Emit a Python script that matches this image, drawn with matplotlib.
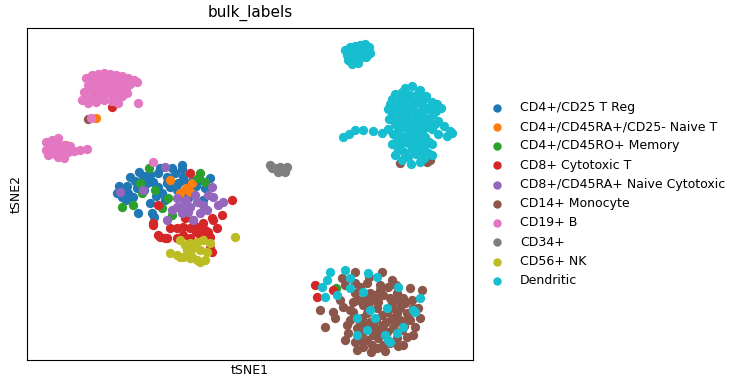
import matplotlib
matplotlib.use("Agg")
import matplotlib.pyplot as plt
import numpy as np

# positions (x, y in picture pixels, y grows downward)
labels = ["CD4+/CD25 T Reg", "CD4+/CD45RA+/CD25- Naive T", "CD4+/CD45RO+ Memory",
          "CD8+ Cytotoxic T", "CD8+/CD45RA+ Naive Cytotoxic", "CD14+ Monocyte",
          "CD19+ B", "CD34+", "CD56+ NK", "Dendritic"]
colors = ["#1f77b4", "#ff7f0e", "#2ca02c", "#d62728", "#9467bd",
          "#8c564b", "#e377c2", "#7f7f7f", "#bcbd22", "#17becf"]

treg = [(130, 177), (150, 175), (158, 173), (167, 177), (182, 165), (182, 169), (175, 173),
        (183, 177), (178, 183), (187, 183), (192, 181), (200, 180), (210, 178), (142, 180),
        (147, 183), (153, 182), (158, 187), (162, 193), (123, 190), (128, 193), (122, 197),
        (133, 197), (150, 203), (138, 213), (152, 213), (154, 217), (170, 187), (177, 190),
        (183, 197), (188, 198), (203, 200), (165, 200), (140, 184), (137, 188), (127, 186),
        (119, 186), (135, 181), (145, 176), (160, 168), (172, 168), (196, 186), (205, 188),
        (117, 193), (126, 200), (144, 190), (156, 196), (139, 172), (167, 183), (190, 188)]
naive_t = [(180, 193), (190, 192), (192, 183), (170, 180), (186, 188), (96, 118), (66, 145)]
memory = [(149, 168), (140, 183), (142, 193), (122, 207), (133, 205), (155, 190), (168, 198),
          (200, 173), (205, 182), (172, 215), (162, 208), (198, 178), (336, 288)]
cd8 = [(153, 223), (158, 235), (165, 238), (170, 228), (177, 228), (183, 227), (190, 228),
       (197, 227), (203, 223), (212, 218), (217, 228), (208, 232), (183, 235), (190, 238),
       (200, 235), (177, 238), (232, 200), (222, 215), (210, 248), (212, 252), (193, 220),
       (185, 218), (190, 173), (158, 205), (153, 225), (213, 220), (160, 237), (167, 238),
       (210, 237), (205, 230), (93, 91), (112, 107), (196, 232),
       (315, 285), (317, 297), (333, 290)]
cd8_naive = [(120, 192), (143, 190), (165, 167), (212, 187), (177, 207), (183, 205),
             (190, 207), (197, 202), (203, 205), (207, 210), (213, 197), (218, 205),
             (223, 202), (172, 210), (188, 212), (193, 220), (167, 220), (182, 213),
             (200, 213), (177, 198), (186, 200), (195, 195), (208, 195)]
monocyte = [(355, 272), (382, 272), (342, 278), (367, 283), (380, 285), (388, 287), (410, 288),
            (355, 293), (370, 293), (383, 295), (397, 293), (403, 298), (343, 307), (333, 312),
            (320, 310), (325, 327), (353, 312), (363, 305), (378, 302), (392, 303), (400, 308),
            (413, 308), (418, 308), (350, 320), (360, 323), (370, 322), (382, 315), (392, 318),
            (400, 320), (408, 318), (415, 327), (348, 333), (363, 332), (375, 328), (383, 325),
            (393, 328), (407, 337), (355, 342), (367, 340), (378, 338), (390, 343), (363, 347),
            (372, 345), (377, 348), (383, 345), (353, 302), (367, 313), (377, 308), (387, 312),
            (397, 313), (407, 313), (372, 300), (358, 300), (347, 325), (357, 328), (397, 338),
            (403, 345), (387, 332), (413, 335), (369, 277), (392, 280), (360, 287), (386, 322),
            (376, 320), (366, 326), (398, 300), (404, 326), (396, 285), (88, 119),
            (398, 148), (400, 163), (425, 152), (430, 160), (427, 162),
            (345, 285), (340, 300), (350, 310), (362, 318), (373, 335), (395, 323), (405, 303),
            (380, 290), (365, 298), (390, 298), (410, 320), (420, 318), (335, 318), (345, 340),
            (360, 340), (385, 351), (398, 346), (371, 352), (355, 283), (375, 295), (392, 308),
            (402, 330), (412, 300), (422, 290), (380, 330), (368, 306), (357, 350)]
b_cells = [(86, 78), (92, 75), (98, 74), (104, 73), (110, 74), (116, 75), (122, 76), (128, 78),
           (134, 80), (88, 85), (94, 83), (100, 81), (106, 80), (112, 80), (118, 81), (124, 82),
           (130, 84), (84, 92), (90, 90), (96, 88), (102, 87), (108, 86), (114, 87), (120, 88),
           (126, 89), (86, 99), (92, 97), (98, 95), (104, 94), (110, 93), (116, 94), (122, 96),
           (96, 102), (104, 100), (112, 101), (118, 103), (88, 103), (138, 103), (137, 82),
           (110, 90), (100, 92), (115, 84), (105, 77), (120, 93), (92, 80), (127, 93), (82, 100),
           (91, 118), (46, 142), (52, 140), (58, 138), (46, 150), (52, 148), (58, 146), (64, 145),
           (70, 146), (48, 155), (55, 154), (62, 153), (68, 152), (74, 151), (80, 150), (87, 149),
           (58, 157), (64, 158), (57, 143), (153, 162)]
cd34 = [(270, 165), (275, 168), (280, 167), (283, 170), (287, 167), (278, 172), (285, 172),
        (272, 168)]
nk = [(180, 240), (190, 243), (197, 242), (203, 240), (210, 243), (187, 250), (193, 248),
      (200, 250), (207, 252), (170, 253), (177, 255), (183, 257), (192, 257), (197, 260),
      (205, 260), (235, 237), (180, 257), (190, 258), (200, 262), (185, 245)]
dendritic = [(345, 50), (350, 47), (355, 46), (360, 45), (365, 44), (369, 47), (347, 55),
             (353, 53), (359, 52), (365, 51), (370, 53), (348, 60), (354, 59), (360, 58),
             (366, 57), (352, 64), (358, 63), (362, 48), (356, 57),
             (343, 137), (349, 134), (355, 130), (363, 130), (373, 131), (382, 133),
             (405, 88), (412, 86), (420, 90), (395, 94), (402, 92), (410, 95), (418, 93),
             (426, 96), (392, 99), (400, 100), (408, 98), (416, 101), (424, 99), (432, 102),
             (390, 104), (398, 106), (406, 103), (414, 105), (422, 104), (430, 107), (437, 104),
             (388, 109), (396, 111), (404, 108), (412, 110), (420, 112), (428, 109), (436, 111),
             (441, 108), (392, 114), (401, 116), (408, 113), (417, 115), (424, 117), (433, 114),
             (389, 119), (397, 121), (405, 118), (413, 120), (421, 122), (429, 119), (438, 121),
             (395, 124), (403, 126), (411, 123), (419, 125), (427, 127), (435, 124), (444, 126),
             (388, 129), (398, 131), (406, 128), (414, 130), (422, 132), (432, 129), (450, 131),
             (393, 134), (401, 136), (409, 133), (417, 135), (425, 137), (438, 134), (447, 136),
             (452, 133), (397, 139), (405, 141), (413, 138), (421, 140), (429, 142),
             (392, 144), (400, 146), (408, 143), (416, 145), (424, 147), (432, 144),
             (398, 150), (404, 152), (412, 149), (420, 151), (428, 153), (395, 155), (408, 157),
             (416, 154), (424, 158), (432, 155), (402, 160), (420, 162), (411, 164),
             (345, 270), (368, 273), (377, 277), (327, 280), (322, 287), (325, 297), (337, 295),
             (350, 278), (350, 288), (363, 292), (398, 287), (420, 298), (415, 312), (387, 308),
             (403, 327), (357, 335), (367, 330), (388, 340), (397, 333), (370, 310), (357, 318),
             (375, 318), (385, 335), (413, 310), (390, 342), (330, 272)]

groups = [treg, naive_t, memory, cd8, cd8_naive, monocyte, b_cells, cd34, nk, dendritic]

fig = plt.figure(figsize=(7.38, 3.88), dpi=100)
ax = fig.add_axes([27 / 738, 1 - 360 / 388, 446 / 738, 332 / 388])

for name, col, pts in zip(labels, colors, groups):
    arr = np.array(pts, dtype=float)
    ax.scatter(arr[:, 0], arr[:, 1], s=45, c=col, linewidths=0, label=name)

ax.set_xlim(27, 473)
ax.set_ylim(360, 28)
ax.set_xticks([])
ax.set_yticks([])
ax.set_xlabel("tSNE1", fontsize=9, labelpad=3)
ax.set_ylabel("tSNE2", fontsize=9, labelpad=3)
ax.set_title("bulk_labels", fontsize=11, pad=8)

ax.legend(loc="center left", bbox_to_anchor=(1.0, 0.5), frameon=False,
          fontsize=9, markerscale=0.9, handlelength=2.0, handletextpad=0.84,
          labelspacing=0.5, borderaxespad=0.52)

fig.savefig("out.png", dpi=100)
